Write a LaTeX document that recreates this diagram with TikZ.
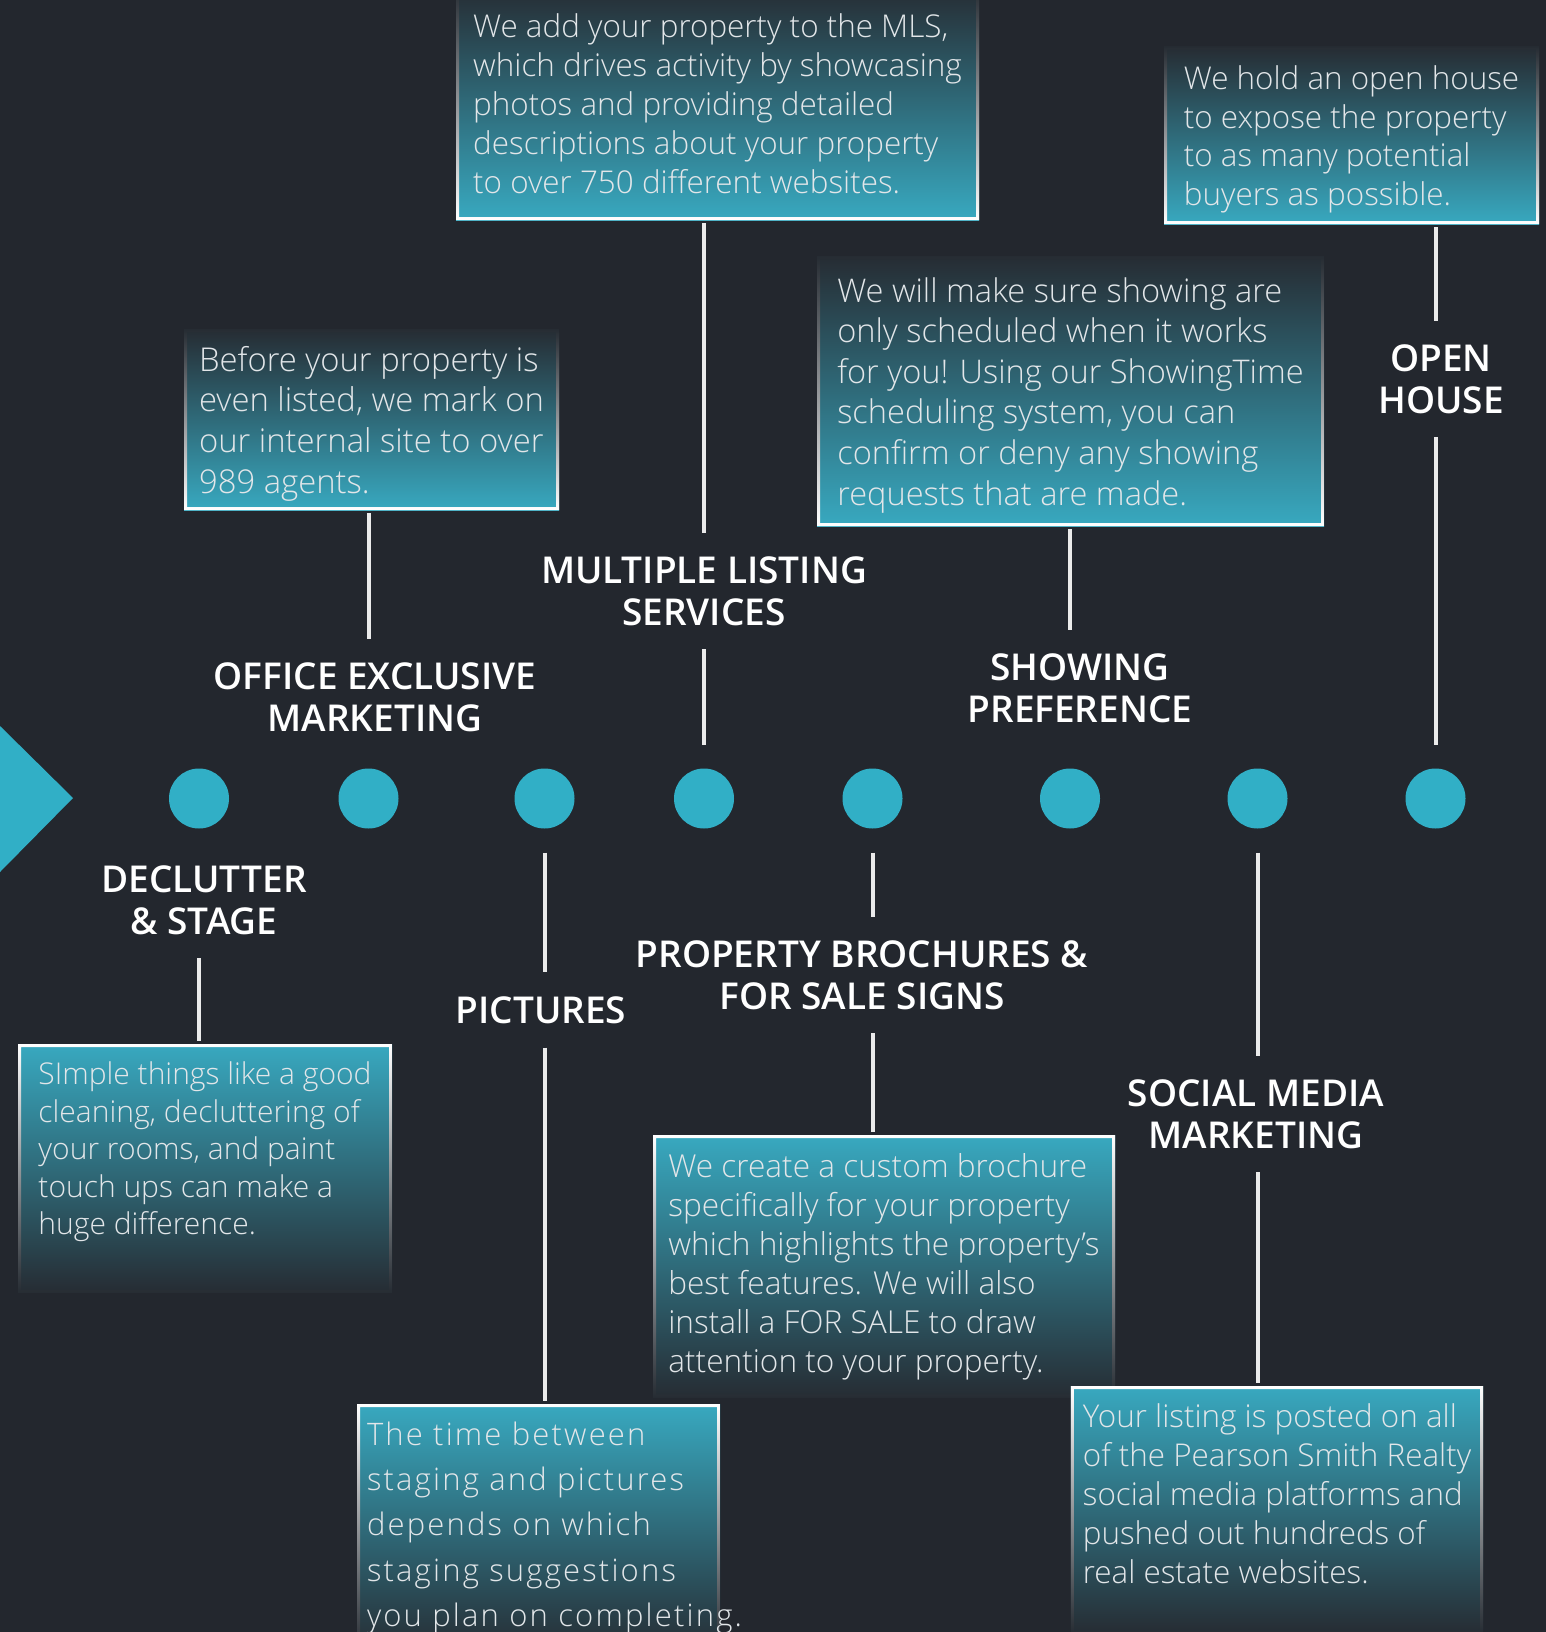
\documentclass[tikz,border=0pt]{standalone}
\usepackage{fontspec}
\IfFontExistsTF{Open Sans Light}{\setmainfont{Open Sans Light}[BoldFont=Open Sans Bold]
  \newfontfamily\spacedfont{Open Sans Light}[LetterSpace=7]}{\setmainfont{Open Sans}
  \newfontfamily\spacedfont{Open Sans}[LetterSpace=6]}
\IfFontExistsTF{Open Sans Semibold}{\newfontfamily\headfamily{Open Sans Semibold}}{\newfontfamily\headfamily{Open Sans}[UprightFont=*-Bold]}
\usetikzlibrary{positioning}

\definecolor{bg}{HTML}{23272E}
\definecolor{dotteal}{HTML}{31AFC6}
\definecolor{boxteal}{HTML}{38A9C0}
\definecolor{boxdark}{HTML}{262C33}
\definecolor{txt}{HTML}{E2E6E9}

\newcommand{\headfont}{\headfamily\fontsize{18.5}{20.8}\selectfont}

\begin{document}
\begin{tikzpicture}[x=0.5pt,y=-0.5pt,
  dot/.style={circle,fill=dotteal,minimum size=30pt,inner sep=0pt,outer sep=12pt},
  heading/.style={text=white,font=\headfont,align=center,inner sep=0pt,outer sep=12pt},
  stem/.style={white!92!black,line width=2pt},
  box/.style={text=txt,align=left,inner xsep=6pt,inner ysep=9pt,outer sep=1.5pt},
  topbox/.style={box,anchor=south,text depth=0pt,top color=boxdark,middle color=boxdark,bottom color=boxteal,
    path picture={\shade[top color=boxdark,bottom color=white,even odd rule]
      (path picture bounding box.south west) rectangle (path picture bounding box.north east)
      ([shift={(1.5pt,1.5pt)}]path picture bounding box.south west) rectangle ([shift={(-1.5pt,-1.5pt)}]path picture bounding box.north east);}},
  botbox/.style={box,anchor=north,top color=boxteal,middle color=boxdark,bottom color=boxdark,
    path picture={\shade[top color=white,bottom color=boxdark,even odd rule]
      (path picture bounding box.south west) rectangle (path picture bounding box.north east)
      ([shift={(1.5pt,1.5pt)}]path picture bounding box.south west) rectangle ([shift={(-1.5pt,-1.5pt)}]path picture bounding box.north east);}}
]
\fill[bg] (0,0) rectangle (1546,1632);
\useasboundingbox (0,0) rectangle (1546,1632);

% start arrow and the timeline dots
\fill[dotteal] (0,726) -- (73,798) -- (0,872) -- cycle;
\foreach \x [count=\i] in {199,368.5,544.5,704,872.5,1070,1257.5,1435.5}
  \node[dot] (c\i) at (\x,798.5) {};

% headings
\node[heading] (hoffice) at (375,697) {OFFICE EXCLUSIVE\\MARKETING};
\node[heading] (hmls) at (704,591) {MULTIPLE LISTING\\SERVICES};
\node[heading] (hshow) at (1080,688) {SHOWING\\PREFERENCE};
\node[heading] (hopen) at (1441,379) {OPEN\\HOUSE};
\node[heading] (hdecl) at (204,900) {DECLUTTER\\\& STAGE};
\node[heading] (hpic) at (541,1010) {PICTURES};
\node[heading] (hbroch) at (862,975) {PROPERTY BROCHURES \&\\FOR SALE SIGNS};
\node[heading] (hsocial) at (1256,1114) {SOCIAL MEDIA\\MARKETING};

% boxes above the line
\node[topbox,minimum width=187.5pt,inner ysep=8.5pt,font=\fontsize{16.4}{20.3}\selectfont] (boffice) at (371.5,513)
  {Before your property is\\even listed, we mark on\\our internal site to over\\989 agents.};
\node[topbox,minimum width=261.5pt,inner ysep=13.5pt,font=\fontsize{15.7}{19.4}\selectfont] (bmls) at (717.5,223)
  {We add your property to the MLS,\\which drives activity by showcasing\\photos and providing detailed\\descriptions about your property\\to over 750 different websites.};
\node[topbox,minimum width=253.5pt,inner ysep=10.5pt,font=\fontsize{16.3}{20.3}\selectfont] (bshow) at (1070.5,529)
  {We will make sure showing are\\only scheduled when it works\\for you! Using our ShowingTime\\scheduling system, you can\\confirm or deny any showing\\requests that are made.};
\node[topbox,minimum width=187.5pt,inner ysep=9.5pt,font=\fontsize{15.7}{19.25}\selectfont] (bopen) at (1351.5,227)
  {We hold an open house\\to expose the property\\to as many potential\\buyers as possible.};

% boxes below the line
\node[botbox,minimum width=187pt,font=\fontsize{15}{18.75}\selectfont,text depth=20pt] (bdecl) at (205,1041)
  {SImple things like a good\\cleaning, decluttering of\\your rooms, and paint\\touch ups can make a\\huge difference.};
\node[botbox,inner xsep=5pt,text width=171.5pt,font=\spacedfont\fontsize{15.5}{22.6}\selectfont] (bpic) at (538.5,1401)
  {The time between\\staging and pictures\\depends on which\\staging suggestions\\\rlap{you plan on completing.}};
\node[botbox,minimum width=231pt,font=\fontsize{15.8}{19.5}\selectfont] (bbroch) at (884,1132)
  {We create a custom brochure\\specifically for your property\\which highlights the property's\\best features. We will also\\install a FOR SALE to draw\\attention to your property.};
\node[botbox,minimum width=206pt,font=\fontsize{15.7}{19.5}\selectfont,text depth=16pt] (bsocial) at (1277,1383)
  {Your listing is posted on all\\of the Pearson Smith Realty\\social media platforms and\\pushed out hundreds of\\real estate websites.};

% stems
\draw[stem] (boffice.south -| c2) -- (hoffice.north -| c2);
\draw[stem] (bmls.south -| c4) -- (hmls.north -| c4);
\draw[stem] (hmls.south -| c4) -- (c4.north);
\draw[stem] (bshow.south -| c6) -- (hshow.north -| c6);
\draw[stem] (bopen.south -| c8) -- (hopen.north -| c8);
\draw[stem] (hopen.south -| c8) -- (c8.north);
\draw[stem] (hdecl.south -| c1) -- (bdecl.north -| c1);
\draw[stem] (c3.south) -- (hpic.north -| c3);
\draw[stem] (hpic.south -| c3) -- (bpic.north -| c3);
\draw[stem] (c5.south) -- (hbroch.north -| c5);
\draw[stem] (hbroch.south -| c5) -- (bbroch.north -| c5);
\draw[stem] (c7.south) -- (hsocial.north -| c7);
\draw[stem] (hsocial.south -| c7) -- (bsocial.north -| c7);
\end{tikzpicture}
\end{document}
